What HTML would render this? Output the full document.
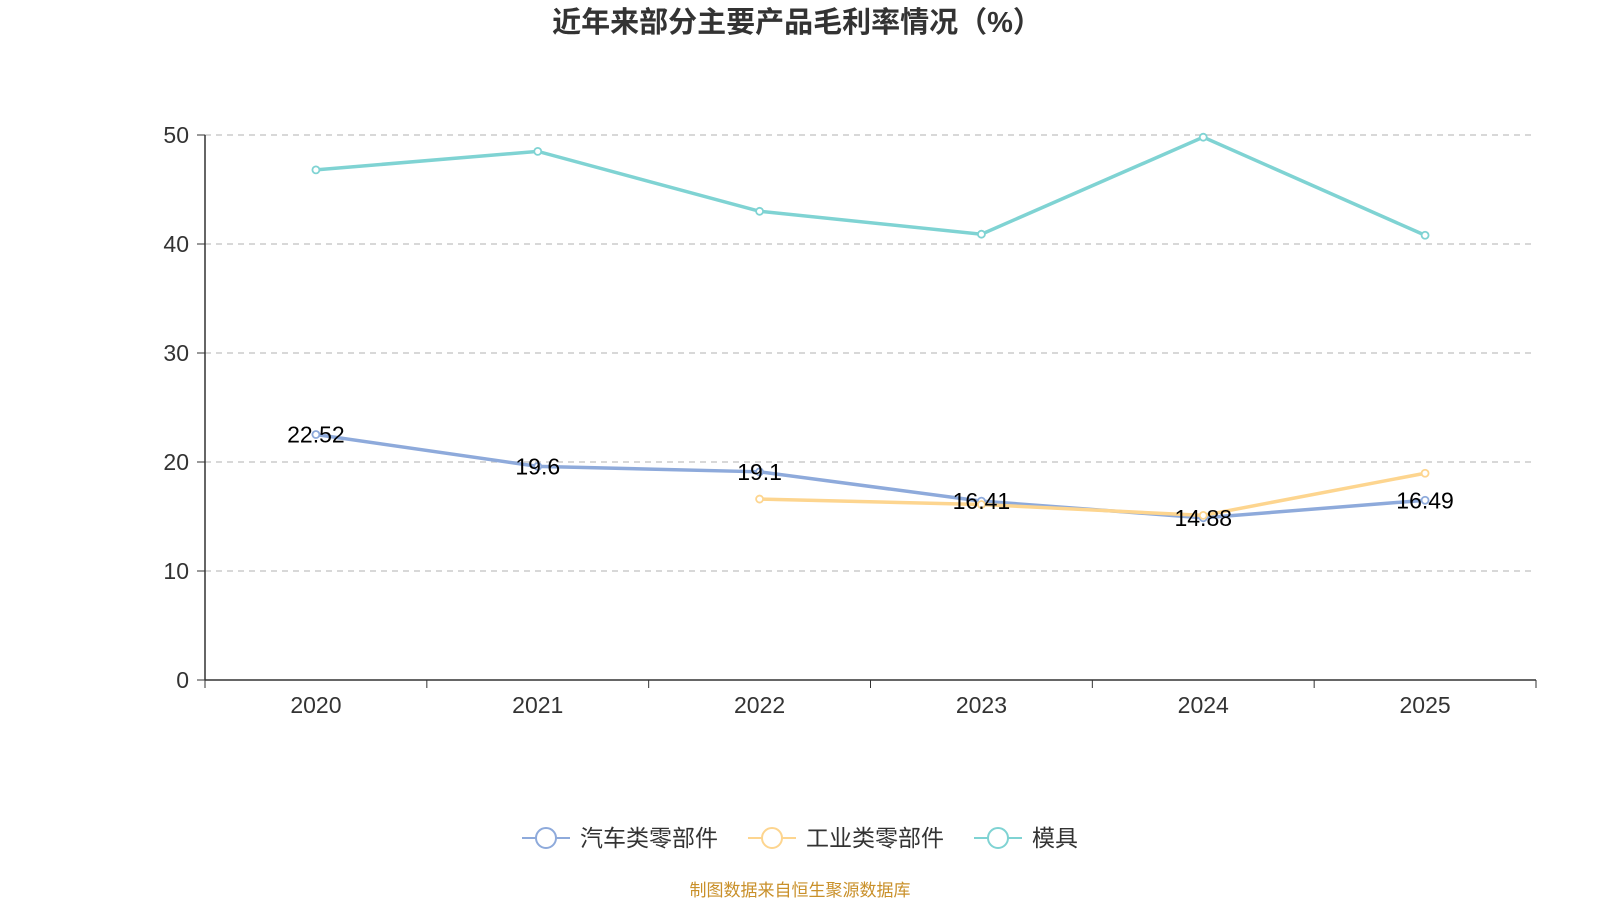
<!DOCTYPE html>
<html><head><meta charset="utf-8"><style>
body{margin:0;background:#fff;font-family:"Liberation Sans","Noto Sans CJK SC",sans-serif}
</style></head><body>
<svg id="c" width="1600" height="900" xmlns="http://www.w3.org/2000/svg" style="font-family:'Liberation Sans','Noto Sans CJK SC',sans-serif">
<text x="797" y="32" text-anchor="middle" font-size="29" font-weight="bold" fill="#333">近年来部分主要产品毛利率情况（%）</text>
<g id="grid"></g><g id="axes"></g><g id="series"></g><g id="labels"></g>
<g>
<g><line x1="522" y1="838" x2="570" y2="838" stroke="#8eaadb" stroke-width="2"/><circle cx="546" cy="838" r="10" fill="#fff" stroke="#8eaadb" stroke-width="2"/><text x="580" y="846" font-size="23" fill="#333">汽车类零部件</text></g>
<g><line x1="748" y1="838" x2="796" y2="838" stroke="#fdd58f" stroke-width="2"/><circle cx="772" cy="838" r="10" fill="#fff" stroke="#fdd58f" stroke-width="2"/><text x="806" y="846" font-size="23" fill="#333">工业类零部件</text></g>
<g><line x1="974" y1="838" x2="1022" y2="838" stroke="#7fd3d3" stroke-width="2"/><circle cx="998" cy="838" r="10" fill="#fff" stroke="#7fd3d3" stroke-width="2"/><text x="1032" y="846" font-size="23" fill="#333">模具</text></g>
</g>
<text x="800" y="896" text-anchor="middle" font-size="17" fill="#c9902a">制图数据来自恒生聚源数据库</text>
</svg>
<script>
const categories=["2020","2021","2022","2023","2024","2025"];
const autoParts=[22.52,19.6,19.1,16.41,14.88,16.49];
const industrialParts=[null,null,16.6,16.1,15.1,18.97];
const molds=[46.8,48.5,43.0,40.9,49.8,40.8];
const yTicks=[0,10,20,30,40,50];
const NS="http://www.w3.org/2000/svg";
const X0=205,X1=1536,Y0=680,Y1=135;
const xs=i=>X0+(X1-X0)/categories.length*(i+0.5);
const ys=v=>Y0-(Y0-Y1)*v/50;
function mk(tag,attrs,parent,txt){const e=document.createElementNS(NS,tag);for(const k in attrs)e.setAttribute(k,attrs[k]);if(txt!==undefined)e.textContent=txt;document.getElementById(parent).appendChild(e);return e;}
yTicks.forEach(t=>{
 if(t>0){const g=mk('line',{x1:X0,x2:X1,y1:ys(t),y2:ys(t),stroke:'#ccc','stroke-dasharray':'6,5','stroke-width':1.5},'grid');
 
 }
 const tk=mk('line',{x1:X0-8,x2:X0,y1:ys(t),y2:ys(t),stroke:'#333'},'axes');
 
 
 const l=mk('text',{x:X0-16,y:ys(t)+8,'text-anchor':'end','font-size':23,fill:'#333'},'axes',t);
 
 
});
const ya=mk('line',{x1:X0,x2:X0,y1:Y1,y2:Y0,stroke:'#333','stroke-width':1.5},'axes');


const xa=mk('line',{x1:X0,x2:X1,y1:Y0,y2:Y0,stroke:'#333','stroke-width':1.5},'axes');


for(let i=0;i<=categories.length;i++){const x=X0+(X1-X0)/categories.length*i;
 const tk=mk('line',{x1:x,x2:x,y1:Y0,y2:Y0+8,stroke:'#333'},'axes');
 
 }
categories.forEach((c,i)=>{const l=mk('text',{x:xs(i),y:Y0+33,'text-anchor':'middle','font-size':23,fill:'#333'},'axes',c);
 
 });
function series(vals,color,name){
 const pts=[];vals.forEach((v,i)=>{if(v!==null)pts.push([xs(i),ys(v)]);});
 const p=mk('polyline',{points:pts.map(p=>p.join(',')).join(' '),fill:'none',stroke:color,'stroke-width':3.5},'series');
 
 
 pts.forEach(q=>{const c=mk('circle',{cx:q[0],cy:q[1],r:3.5,fill:'#fff',stroke:color,'stroke-width':1.8},'series');
 
 });
}
series(autoParts,'#8eaadb','auto-parts');
series(industrialParts,'#fdd58f','industrial-parts');
series(molds,'#7fd3d3','molds');
autoParts.forEach((v,i)=>{const t=mk('text',{x:xs(i),y:ys(v)+8,'text-anchor':'middle','font-size':23,fill:'#000'},'labels',String(v));
 
 });
</script>
</body></html>
